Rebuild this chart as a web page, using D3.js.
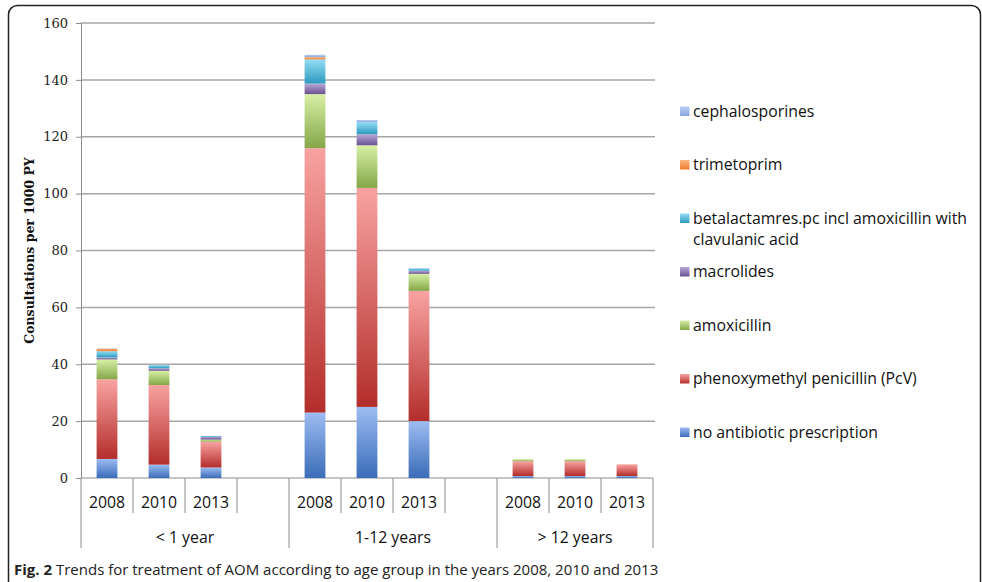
<!DOCTYPE html>
<html>
<head>
<meta charset="utf-8">
<script src="https://cdn.jsdelivr.net/npm/d3@7"></script>
<style>
  html, body { margin: 0; padding: 0; background: #fff; }
  svg { display: block; }
</style>
</head>
<body>
<svg id="chart" width="982" height="582"></svg>
<script>
// ---- data ----
const groups = ["< 1 year", "1-12 years", "> 12 years"];
const years = ["2008", "2010", "2013"];
const yTicks = [0, 20, 40, 60, 80, 100, 120, 140, 160];
const seriesNames = [
  "no antibiotic prescription",
  "phenoxymethyl penicillin (PcV)",
  "amoxicillin",
  "macrolides",
  "betalactamres.pc incl amoxicillin with clavulanic acid",
  "trimetoprim",
  "cephalosporines"
];
// bar order: <1y 2008, 2010, 2013, 1-12y 2008, 2010, 2013, >12y 2008, 2010, 2013
const noAntibiotic = [6.7, 4.7, 3.7, 23.0, 25.0, 20.0, 0.7, 0.7, 0.7];
const pcv          = [28.0, 28.0, 9.1, 93.0, 77.0, 45.8, 5.2, 5.2, 4.1];
const amoxicillin  = [7.0, 5.0, 0.7, 19.0, 15.0, 6.0, 0.7, 0.7, 0.0];
const macrolides   = [0.7, 0.9, 1.0, 3.7, 3.9, 1.1, 0.0, 0.0, 0.0];
const betalactam   = [2.2, 1.1, 0.3, 8.5, 4.2, 0.8, 0.0, 0.0, 0.0];
const trimetoprim  = [0.9, 0.0, 0.0, 0.8, 0.0, 0.0, 0.0, 0.0, 0.0];
const cephalo      = [0.1, 0.1, 0.0, 0.8, 0.8, 0.1, 0.0, 0.0, 0.0];
const seriesValues = [noAntibiotic, pcv, amoxicillin, macrolides, betalactam, trimetoprim, cephalo];

// gradient colours (top light, bottom dark)
const colorTop = ["#9dbcf2", "#f8a3a1", "#d8f0a6", "#b9a8d8", "#92ddf5", "#fbb67d", "#b7cff3"];
const colorBot = ["#3a6cb8", "#b32e2b", "#84a648", "#6a5290", "#2e9abd", "#ee7c2c", "#89a7dd"];

// ---- layout ----
const svg = d3.select("#chart");
const pLeft = 81, pRight = 653, pTop = 23, pBottom = 478;

// slots: each group has its years, groups 1 and 2 followed by a blank slot
const slots = [];
groups.forEach((g, gi) => {
  years.forEach(yr => slots.push({ key: g + "|" + yr, group: g, year: yr }));
  if (gi < groups.length - 1) slots.push({ key: g + "|blank", group: g, year: null });
});
const bars = [];
groups.forEach(g => years.forEach(yr => bars.push(g + "|" + yr)));

const x = d3.scaleBand().domain(slots.map(s => s.key)).range([pLeft, pRight]).padding(0);
const y = d3.scaleLinear().domain([0, 160]).range([pBottom, pTop]);
const barW = x.bandwidth() * 0.4;

// gradients
const defs = svg.append("defs");
seriesNames.forEach((n, i) => {
  const lgr = defs.append("linearGradient").attr("id", "g" + i)
    .attr("x1", 0).attr("y1", 0).attr("x2", 0).attr("y2", 1);
  lgr.append("stop").attr("offset", "0%").attr("stop-color", colorTop[i]);
  lgr.append("stop").attr("offset", "100%").attr("stop-color", colorBot[i]);
});

// frame
svg.append("rect").attr("x", 8.5).attr("y", 5.5).attr("width", 972).attr("height", 590)
  .attr("rx", 9).attr("fill", "none").attr("stroke", "#222").attr("stroke-width", 1.5);

// gridlines
svg.append("g").selectAll("line").data(yTicks.filter(t => t > 0)).join("line")
  .attr("x1", pLeft).attr("x2", pRight + 2)
  .attr("y1", d => y(d)).attr("y2", d => y(d))
  .attr("stroke", "#a6a6a6").attr("stroke-width", 1.5);

// y axis
const yAxis = svg.append("g").attr("transform", `translate(${pLeft},0)`)
  .call(d3.axisLeft(y).tickValues(yTicks).tickSize(5).tickPadding(8));
yAxis.select(".domain").attr("stroke", "#8c8c8c");
yAxis.selectAll(".tick line").attr("stroke", "#8c8c8c");
yAxis.selectAll(".tick text").attr("font-family", "'DejaVu Serif', serif")
  .attr("font-size", 13).attr("fill", "#222");

// x axis baseline
svg.append("line").attr("x1", pLeft).attr("x2", pRight).attr("y1", pBottom).attr("y2", pBottom)
  .attr("stroke", "#8c8c8c").attr("stroke-width", 1.2);

// separators
const boundaries = slots.map(s => x(s.key)).concat([pRight]);
const groupStarts = new Set([x(slots[0].key)]);
slots.forEach((s, i) => { if (i > 0 && slots[i - 1].group !== s.group) groupStarts.add(x(s.key)); });
groupStarts.add(pRight);
svg.append("g").selectAll("line").data(boundaries).join("line")
  .attr("x1", d => d).attr("x2", d => d)
  .attr("y1", pBottom).attr("y2", d => groupStarts.has(d) ? 548 : 513)
  .attr("stroke", "#8c8c8c").attr("stroke-width", 1);

// year labels
svg.append("g").selectAll("text").data(slots.filter(s => s.year)).join("text")
  .attr("x", d => x(d.key) + x.bandwidth() / 2).attr("y", 502)
  .attr("dy", "0.35em").attr("text-anchor", "middle")
  .attr("font-family", "'Open Sans', sans-serif").attr("font-size", 15.8).attr("fill", "#111")
  .text(d => d.year);

// group labels
svg.append("g").selectAll("text").data(groups).join("text")
  .attr("x", g => {
    const ks = slots.filter(s => s.group === g).map(s => x(s.key));
    const a = d3.min(ks);
    const b = (g === groups[groups.length - 1]) ? pRight : d3.max(ks) + x.bandwidth();
    return (a + b) / 2;
  })
  .attr("y", 537).attr("dy", "0.35em").attr("text-anchor", "middle")
  .attr("font-family", "'Open Sans', sans-serif").attr("font-size", 15.8).attr("fill", "#111")
  .text(g => g);

// stacked bars
const table = bars.map((k, bi) => {
  const o = { key: k };
  seriesNames.forEach((n, si) => { o[n] = seriesValues[si][bi]; });
  return o;
});
const stacked = d3.stack().keys(seriesNames)(table);
svg.append("g").selectAll("g").data(stacked).join("g")
  .attr("fill", (d, i) => `url(#g${i})`)
  .selectAll("rect").data(d => d.filter(p => p[1] - p[0] > 0)).join("rect")
  .attr("x", p => x(p.data.key) + (x.bandwidth() - barW) / 2)
  .attr("width", barW)
  .attr("y", p => y(p[1]))
  .attr("height", p => y(p[0]) - y(p[1]));

// y title
svg.append("text")
  .attr("transform", `translate(34,${(pTop + pBottom) / 2}) rotate(-90)`)
  .attr("text-anchor", "middle")
  .attr("font-family", "'DejaVu Serif', serif").attr("font-weight", "bold")
  .attr("font-size", 12.5).attr("fill", "#111")
  .text("Consultations per 1000 PY");

// legend (top entry = last series)
const legendY = [111, 164.5, 218, 271.5, 325, 378.5, 432];
const legendOrder = seriesNames.map((n, i) => i).reverse();
const lg = svg.append("g").selectAll("g").data(legendOrder).join("g")
  .attr("transform", (si, k) => `translate(680,${legendY[k]})`);
lg.append("rect").attr("x", 0).attr("y", -4.5).attr("width", 9.5).attr("height", 9.5)
  .attr("fill", si => `url(#g${si})`);
lg.each(function (si) {
  const name = seriesNames[si];
  const t = d3.select(this).append("text").attr("x", 13).attr("y", 0).attr("dy", "0.35em")
    .attr("font-family", "'Open Sans', sans-serif").attr("font-size", 15.8).attr("fill", "#111");
  if (name.length > 40) {
    t.append("tspan").attr("x", 13).text("betalactamres.pc incl amoxicillin with");
    t.append("tspan").attr("x", 13).attr("dy", "1.35em").text("clavulanic acid");
  } else {
    t.text(name);
  }
});

// caption
const cap = svg.append("text").attr("x", 14).attr("y", 575)
  .attr("font-family", "'Open Sans', sans-serif").attr("font-size", 15).attr("fill", "#222");
cap.append("tspan").attr("font-weight", "bold").text("Fig. 2");
cap.append("tspan").text(" Trends for treatment of AOM according to age group in the years 2008, 2010 and 2013");
</script>
</body>
</html>
